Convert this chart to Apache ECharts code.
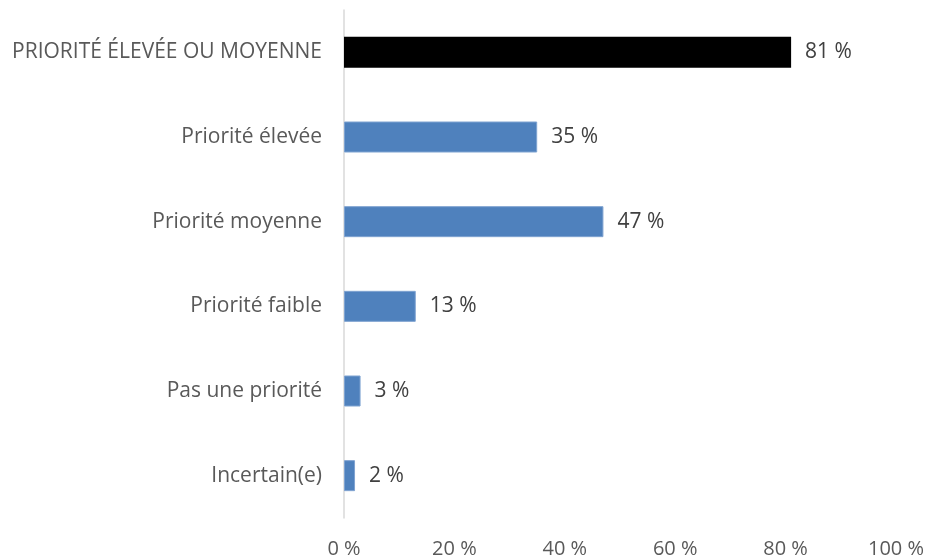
<!DOCTYPE html>
<html>
<head>
<meta charset="utf-8">
<script src="https://cdn.jsdelivr.net/npm/echarts@6/dist/echarts.min.js"></script>
<style>html,body{margin:0;padding:0;background:#fff}#main{width:927px;height:559px}</style>
</head>
<body>
<div id="main"></div>
<script>
var categories = ['PRIORITÉ ÉLEVÉE OU MOYENNE', 'Priorité élevée', 'Priorité moyenne', 'Priorité faible', 'Pas une priorité', 'Incertain(e)'];
var values = [81, 35, 47, 13, 3, 2];
var xTicks = [0, 20, 40, 60, 80, 100];

(function(){
	var myChart = echarts.init(document.getElementById('main'));
	var font = '"Open Sans", "Noto Sans", sans-serif';
	var data = values.map(function(v, i){
		return {
			value: v,
			itemStyle: i === 0 ? {color: '#000000', borderWidth: 0} : {color: '#4F81BD', borderColor: '#7FA3D1', borderWidth: 1}
		};
	});
	var option = {
		animation: false,
		grid: {left: 344, right: 31, top: 10, bottom: 41, containLabel: false},
		xAxis: {
			type: 'value',
			min: xTicks[0],
			max: xTicks[xTicks.length - 1],
			interval: 20,
			splitLine: {show: false},
			axisLine: {show: false},
			axisTick: {show: false},
			axisLabel: {
				formatter: '{value} %',
				color: '#595959',
				fontSize: 20,
				fontFamily: font,
				margin: 21
			}
		},
		yAxis: {
			type: 'category',
			inverse: true,
			data: categories,
			axisLine: {show: true, lineStyle: {color: '#D9D9D9', width: 1.5}},
			axisTick: {show: false},
			axisLabel: {color: '#595959', fontSize: 21, fontFamily: font, margin: 22}
		},
		series: [{
			type: 'bar',
			data: data,
			barWidth: 31,
			label: {
				show: true,
				position: 'right',
				distance: 14,
				formatter: '{c} %',
				color: '#404040',
				fontSize: 21,
				fontFamily: font
			}
		}]
	};
	myChart.setOption(option);
})();
</script>
</body>
</html>
